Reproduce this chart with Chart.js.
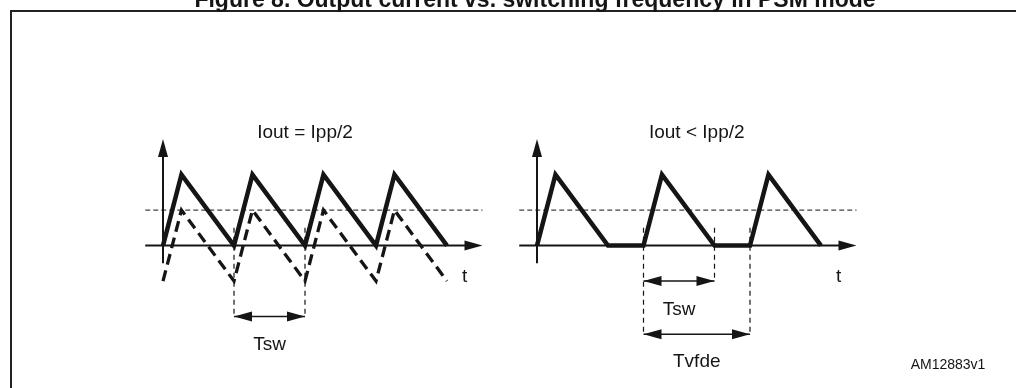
<!DOCTYPE html>
<html><head><meta charset="utf-8">
<script src="https://cdn.jsdelivr.net/npm/chart.js@4/dist/chart.umd.min.js"></script>
<style>html,body{margin:0;padding:0;background:#fff}canvas{display:block}</style>
</head><body>
<canvas id="c" width="1016" height="388"></canvas>
<script>
// time in units of Tsw, current in units of Ipp
const tLeft = [0, 0.26, 1, 1.26, 2, 2.26, 3, 3.26, 4];
const iLeft = [0, 1, 0, 1, 0, 1, 0, 1, 0];
const iLeftLow = [-0.5, 0.5, -0.5, 0.5, -0.5, 0.5, -0.5, 0.5, -0.5];
const tRight = [0, 0.26, 1, 1.5, 1.76, 2.5, 3, 3.26, 4];
const iRight = [0, 1, 0, 0, 1, 0, 0, 1, 0];
const iHalf = 0.5;
const tAxisRange = [-0.25, 4.5];
const iAxisRange = [-0.25, 1.5];
const leftMarks = [1, 2];
const leftMarkEnds = [-1.0, -1.0];
const rightMarks = [1.5, 2.5, 3];
const rightMarkEnds = [-1.25, -0.5, -1.25];
const markTop = 0.25;
const spans = [ // [side, from, to, level, label, labelLevel]
  ['L', 1, 2, -1.0, 'Tsw', -1.4],
  ['R', 1.5, 2.5, -0.5, 'Tsw', -0.9],
  ['R', 1.5, 3, -1.25, 'Tvfde', -1.64]
];
const titles = [['L', 2.0, 'Iout = Ipp/2'], ['R', 2.25, 'Iout < Ipp/2']];

// layout
const PX = 71, W = 1016, H = 388, X0 = 163, Y0 = 245.6;
const off = { L: 0, R: (537 - X0) / PX };
const INK = '#151515';
const FONT = '"Liberation Sans", Arial, Helvetica, sans-serif';

const pts = (ts, ys, side) => ts.map((t, i) => ({ x: t + off[side], y: ys[i] }));
const seg = (x1, y1, x2, y2) => [{ x: x1, y: y1 }, { x: x2, y: y2 }];
const line = (data, o) => Object.assign({ data, showLine: true, pointRadius: 0, borderColor: INK, borderWidth: 1, fill: false, tension: 0 }, o);

const datasets = [];
datasets.push(line(pts(tLeft, iLeft, 'L'), { borderWidth: 4.5, borderJoinStyle: 'miter' }));
datasets.push(line(pts(tRight, iRight, 'R'), { borderWidth: 4.5, borderJoinStyle: 'miter' }));
datasets.push(line(pts(tLeft, iLeftLow, 'L'), { borderWidth: 3.3, borderDash: [11, 6], borderJoinStyle: 'miter' }));
['L', 'R'].forEach(s => {
  datasets.push(line(seg(tAxisRange[0] + off[s], 0, tAxisRange[1] + off[s] - 0.1, 0), { borderWidth: 2 }));
  datasets.push(line(seg(off[s], iAxisRange[0], off[s], iAxisRange[1] - 0.1), { borderWidth: 2 }));
  datasets.push(line(seg(tAxisRange[0] + off[s], iHalf, tAxisRange[1] + off[s], iHalf), { borderWidth: 1, borderDash: [5, 3] }));
});
leftMarks.forEach((t, i) => datasets.push(line(seg(t, markTop, t, leftMarkEnds[i]), { borderWidth: 1.2, borderDash: [5, 4] })));
rightMarks.forEach((t, i) => datasets.push(line(seg(t + off.R, markTop, t + off.R, rightMarkEnds[i]), { borderWidth: 1.2, borderDash: [5, 4] })));
spans.forEach(s => datasets.push(line(seg(s[1] + off[s[0]], s[3], s[2] + off[s[0]], s[3]), { borderWidth: 1.5 })));

function head(ctx, x, y, dx, dy, len, half) {
  ctx.beginPath();
  ctx.moveTo(x, y);
  ctx.lineTo(x - dx * len - dy * half, y - dy * len + dx * half);
  ctx.lineTo(x - dx * len + dy * half, y - dy * len - dx * half);
  ctx.closePath();
  ctx.fill();
}

const decor = {
  id: 'decor',
  afterDatasetsDraw(chart) {
    const { ctx, scales: { x, y } } = chart;
    const px = v => x.getPixelForValue(v), py = v => y.getPixelForValue(v);
    ctx.save();
    ctx.fillStyle = INK;
    ['L', 'R'].forEach(s => {
      head(ctx, px(tAxisRange[1] + off[s]), py(0), 1, 0, 18, 5);
      head(ctx, px(off[s]), py(iAxisRange[1]), 0, -1, 18, 5);
      ctx.font = '19px ' + FONT;
      ctx.textAlign = 'center'; ctx.textBaseline = 'middle';
      ctx.fillText('t', px(4.25 + off[s]), py(-0.44));
    });
    spans.forEach(s => {
      const a = px(s[1] + off[s[0]]), b = px(s[2] + off[s[0]]), yy = py(s[3]);
      head(ctx, a, yy, -1, 0, 18, 5);
      head(ctx, b, yy, 1, 0, 18, 5);
      ctx.fillText(s[4], px((s[1] + s[2]) / 2 + off[s[0]]), py(s[5]));
    });
    titles.forEach(t => ctx.fillText(t[2], px(t[1] + off[t[0]]), py(1.586)));
    // frame, figure title, reference code
    ctx.strokeStyle = '#222'; ctx.lineWidth = 2;
    ctx.beginPath(); ctx.moveTo(11, H + 5); ctx.lineTo(11, 11); ctx.lineTo(W + 5, 11); ctx.stroke();
    ctx.font = 'bold 23px ' + FONT; ctx.textBaseline = 'alphabetic';
    ctx.fillText('Figure 8. Output current vs. switching frequency in PSM mode', 535, 7);
    ctx.font = '14px ' + FONT; ctx.textBaseline = 'middle';
    ctx.fillText('AM12883v1', 948, 365);
    ctx.restore();
  }
};

new Chart(document.getElementById('c'), {
  type: 'scatter',
  data: { datasets },
  options: {
    responsive: false, animation: false, events: [],
    layout: { padding: 0 },
    plugins: { legend: { display: false }, tooltip: { enabled: false } },
    scales: {
      x: { type: 'linear', display: false, min: -X0 / PX, max: (W - X0) / PX },
      y: { type: 'linear', display: false, min: (Y0 - H) / PX, max: Y0 / PX }
    }
  },
  plugins: [decor]
});
</script>
</body></html>
